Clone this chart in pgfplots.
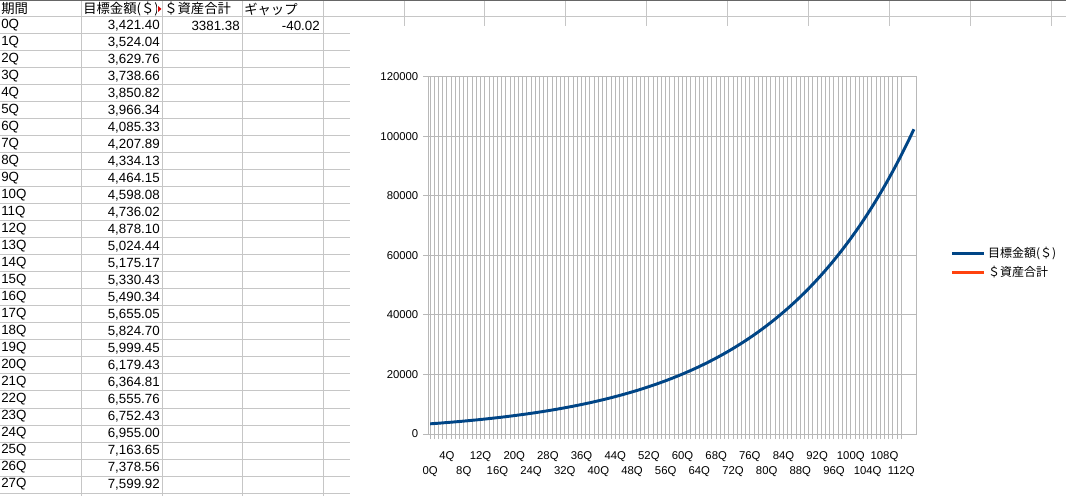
\documentclass[border=0pt]{standalone}
\usepackage{fontspec}
\setmainfont{Liberation Sans}
\newfontfamily\jp{Noto Sans CJK JP}
\usepackage{pgfplots}
\pgfplotsset{compat=1.18}
\definecolor{sheetgrid}{HTML}{C6C6C6}
\definecolor{chartgrid}{HTML}{B8B8B8}
\definecolor{serA}{HTML}{004586}
\definecolor{serB}{HTML}{FF420E}
\newcommand{\cf}{\fontsize{10}{12}\selectfont}
\newcommand{\af}{\fontsize{8.5}{10}\selectfont}

\begin{document}
\begin{tikzpicture}
\path[use as bounding box, fill=white] (0,0) rectangle (799.5pt,372pt);

% spreadsheet, in screen pixels measured from the top left corner
\begin{scope}[shift={(0pt,372pt)}, x=0.75pt, y=-0.75pt]
\foreach \c in {81,162,242,323}
  \draw[sheetgrid, line width=0.75pt] (\c,0) -- (\c,496);
\foreach \c in {404,484,565,646,727,808,889,970,1051}
  \draw[sheetgrid, line width=0.75pt] (\c,0) -- (\c,26);
\draw[sheetgrid, line width=0.75pt] (0,17) -- (1066,17);
\foreach \r in {0,...,27}
  \draw[sheetgrid, line width=0.75pt] (0,34+17*\r) -- (350,34+17*\r);
\draw[black!60, line width=1.5pt] (0,0) -- (1066,0);

% header row
\node[anchor=west, inner sep=0pt, font=\cf\jp] at (1,9) {期間};
\begin{scope}
  \clip (81,0) rectangle (156,17);
  \node[anchor=west, inner sep=0pt, font=\cf\jp] at (83,9) {目標金額(＄)};
\end{scope}
\fill[red!85!black] (158,6) -- (161.5,9) -- (158,12) -- cycle;
\node[anchor=west, inner sep=0pt, font=\cf\jp] at (164,9) {＄資産合計};
\node[anchor=west, inner sep=0pt, font=\cf\jp] at (244,9) {ギャップ};

% data rows
\foreach \v [count=\i from 0] in {{3,421.40},{3,524.04},{3,629.76},{3,738.66},
  {3,850.82},{3,966.34},{4,085.33},{4,207.89},{4,334.13},{4,464.15},
  {4,598.08},{4,736.02},{4,878.10},{5,024.44},{5,175.17},{5,330.43},
  {5,490.34},{5,655.05},{5,824.70},{5,999.45},{6,179.43},{6,364.81},
  {6,555.76},{6,752.43},{6,955.00},{7,163.65},{7,378.56},{7,599.92}} {
  \node[anchor=west, inner sep=0pt, font=\cf] at (1,25.5+17*\i) {\i Q};
  \node[anchor=east, inner sep=0pt, font=\cf] at (160,25.5+17*\i) {\v};
}
\node[anchor=east, inner sep=0pt, font=\cf] at (240,25.5) {3381.38};
\node[anchor=east, inner sep=0pt, font=\cf] at (320,25.5) {-40.02};

% chart object background
\fill[white] (350,26) rectangle (1066,497);
\end{scope}

\begin{axis}[
    at={(321pt,46.5pt)}, anchor=south west,
    scale only axis, width=366pt, height=267.75pt,
    xmin=-0.5, xmax=115.5, ymin=0, ymax=120000,
    axis line style={chartgrid, line width=0.75pt},
    xtick={0,8,...,112},
    xticklabels={0Q,8Q,16Q,24Q,32Q,40Q,48Q,56Q,64Q,72Q,80Q,88Q,96Q,104Q,112Q},
    minor x tick num=7,
    extra x ticks={4,12,...,108},
    extra x tick labels={4Q,12Q,20Q,28Q,36Q,44Q,52Q,60Q,68Q,76Q,84Q,92Q,100Q,108Q},
    extra x tick style={grid=major, xticklabel style={yshift=11.25pt}},
    xticklabel style={anchor=center, yshift=-24.75pt, font=\af},
    ytick={0,20000,40000,60000,80000,100000,120000},
    yticklabel style={font=\af},
    scaled y ticks=false,
    /pgf/number format/.cd, fixed, set thousands separator={}, assume math mode=true,
    /pgfplots/.cd,
    tick align=outside,
    xtick pos=bottom, ytick pos=left,
    major tick length=3.75pt, minor tick length=3.75pt,
    tick style={chartgrid, line width=0.75pt},
    grid=both,
    major grid style={chartgrid, line width=0.75pt},
    minor grid style={chartgrid, line width=0.75pt},
    legend style={at={(1.062,0.48)}, anchor=west, draw=none, fill=none,
      font=\fontsize{9}{10.5}\selectfont\jp, row sep=1pt},
    legend cell align=left,
    legend image code/.code={\draw[#1] (0pt,0pt) -- (24pt,0pt);},
]
\addplot[serA, line width=2.2pt, line join=round] coordinates {
 (0,3421.40) (1,3524.04) (2,3629.76) (3,3738.66) (4,3850.82) (5,3966.34)
 (6,4085.33) (7,4207.89) (8,4334.13) (9,4464.15) (10,4598.08) (11,4736.02)
 (12,4878.10) (13,5024.44) (14,5175.17) (15,5330.43) (16,5490.34) (17,5655.05)
 (18,5824.70) (19,5999.45) (20,6179.43) (21,6364.81) (22,6555.76) (23,6752.43)
 (24,6955.00) (25,7163.65) (26,7378.56) (27,7599.92) (28,7827.92) (29,8062.75)
 (30,8304.64) (31,8553.78) (32,8810.39) (33,9074.70) (34,9346.94) (35,9627.35)
 (36,9916.17) (37,10213.65) (38,10520.06) (39,10835.66) (40,11160.73) (41,11495.55)
 (42,11840.42) (43,12195.63) (44,12561.50) (45,12938.35) (46,13326.50) (47,13726.30)
 (48,14138.09) (49,14562.23) (50,14999.10) (51,15449.07) (52,15912.54) (53,16389.92)
 (54,16881.61) (55,17388.06) (56,17909.70) (57,18446.99) (58,19000.40) (59,19570.41)
 (60,20157.52) (61,20762.25) (62,21385.12) (63,22026.67) (64,22687.47) (65,23368.09)
 (66,24069.13) (67,24791.20) (68,25534.94) (69,26300.99) (70,27090.02) (71,27902.72)
 (72,28739.80) (73,29601.99) (74,30490.05) (75,31404.75) (76,32346.89) (77,33317.30)
 (78,34316.82) (79,35346.32) (80,36406.71) (81,37498.91) (82,38623.88) (83,39782.60)
 (84,40976.08) (85,42205.36) (86,43471.52) (87,44775.67) (88,46118.94) (89,47502.51)
 (90,48927.59) (91,50395.42) (92,51907.28) (93,53464.50) (94,55068.44) (95,56720.49)
 (96,58422.10) (97,60174.76) (98,61980.00) (99,63839.40) (100,65754.58) (101,67727.22)
 (102,69759.03) (103,71851.80) (104,74007.35) (105,76227.57) (106,78514.40) (107,80869.83)
 (108,83295.93) (109,85794.81) (110,88368.65) (111,91019.71) (112,93750.30) (113,96562.81)
 (114,99459.69) (115,102443.48)
};
\addlegendentry{目標金額(＄)}
\addplot[serB, line width=2.2pt] coordinates {(0,3381.38)};
\addlegendentry{＄資産合計}
\end{axis}
\end{tikzpicture}
\end{document}
